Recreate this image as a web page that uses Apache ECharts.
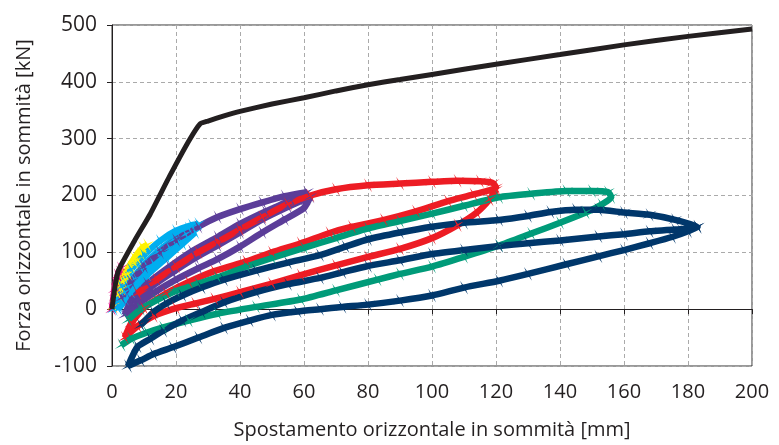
<!DOCTYPE html>
<html>
<head>
<meta charset="utf-8">
<script src="https://cdn.jsdelivr.net/npm/echarts@6/dist/echarts.min.js"></script>
<style>
  html, body { margin: 0; padding: 0; background: #fff; }
  #chart { width: 779px; height: 445px; }
</style>
</head>
<body>
<div id="chart"></div>
<script>
// curva di capacità (pushover)
var backboneCurve = [[0,0],[0.8,35],[2,68],[7,120],[12,168],[18,234],[24,296],[27.5,326],[30,331],[35,340],[40,348],[50,361],[60,372],[70,384],[80,395],[90,404],[100,413],[120,431],[140,448],[160,465],[180,480],[200,493]];

// cicli sperimentali
var magentaLoop = [[0,0],[0.8,35],[1.8,60],[2.8,72],[2.2,55],[1.2,30],[0.4,5],[1.5,40],[2.5,65]];
var yellowLoop = [[0.5,5],[2,38],[4,62],[7,90],[9.5,108],[11,113],[9,98],[6,75],[3.5,48],[2,25],[4,52],[7,82],[10,106],[8,88],[5,62],[3,35]];
var cyanLoop = [[0.5,0],[3,40],[6,70],[10,95],[15,120],[20,138],[25,148],[27,150],[23,132],[18,108],[13,80],[8,50],[4,18],[2,0],[6,30],[11,60],[17,90],[22,115],[26,135],[21,118],[16,98],[11,75],[7,52],[4,30],[2,5],[5,40],[9,72],[14,100],[19,122],[24,142]];
var purpleLoop = [[3,20],[6,48],[10,75],[15,100],[20,122],[27,145],[33,162],[40,176],[47,188],[54,199],[61,206],[56,192],[48,172],[40,150],[33,127],[25,102],[18,75],[11,45],[6,15],[4,-10],[8,8],[14,32],[20,52],[27,72],[33,88],[40,110],[47,135],[54,158],[60,178],[62,198],[55,180],[47,158],[40,135],[33,112],[26,90],[19,65],[12,38],[7,10]];
var redLoop = [[8,28],[14,52],[20,75],[27,100],[33,118],[40,140],[47,162],[55,185],[62,200],[70,211],[80,218],[90,221],[100,224],[108,226],[115,225],[119,222],[120,214],[113,202],[105,190],[95,172],[85,157],[75,145],[68,134],[59,116],[50,100],[42,84],[32,67],[24,48],[17,28],[10,2],[6,-25],[4,-50],[8,-30],[13,-12],[20,2],[26,10],[32,18],[40,30],[50,45],[59,60],[70,77],[80,92],[90,106],[100,125],[108,148],[114,170],[118,193],[120,210]];
var greenLoop = [[5,-19],[9,0],[14,16],[20,32],[27,45],[33,56],[42,75],[50,90],[60,108],[70,125],[80,142],[90,155],[100,168],[110,182],[121,197],[131,203],[142,208],[150,208],[155,206],[156,197],[153,184],[148,170],[140,152],[131,133],[121,112],[110,92],[100,75],[90,62],[83,52],[70,33],[59,17],[45,4],[33,-8],[24,-20],[16,-32],[11,-41],[6,-52],[3,-63]];
var navyLoop = [[9,-28],[13,-5],[17,10],[22,24],[28,38],[35,52],[45,68],[55,82],[65,95],[73,110],[80,123],[90,135],[100,145],[110,152],[121,157],[130,164],[137,171],[145,175],[152,175],[160,170],[168,166],[176,157],[183,145],[176,140],[168,137],[160,132],[152,128],[140,121],[130,116],[121,111],[110,104],[100,97],[90,86],[80,76],[72,65],[65,55],[55,44],[45,30],[35,12],[28,-5],[22,-20],[16,-38],[12,-52],[8,-66],[5,-100],[9,-90],[13,-79],[19,-67],[27,-50],[35,-33],[43,-20],[50,-10],[58,-4],[65,0],[72,4],[80,8],[90,15],[100,24],[110,38],[121,50],[130,62],[142,79],[152,93],[160,104],[168,116],[175,127],[180,137],[183,145]];

var xTicks = [0, 200, 20];
var yTicks = [-100, 500, 100];

var star = 'path://M0,-10 L1,-1 L10,0 L1,1 L0,10 L-1,1 L-10,0 L-1,-1 Z';
var fontName = 'Open Sans';
var textColor = '#231f20';

function loop(data, color) {
    return {
        type: 'line',
        data: data,
        xAxisIndex: 0,
        smooth: 0.2,
        symbol: star,
        symbolSize: 16,
        symbolRotate: 30,
        showSymbol: true,
        itemStyle: { color: color },
        lineStyle: { color: color, width: 6.5 }
    };
}

var option = {
    animation: false,
    grid: {
        left: 112, right: 27, top: 25, bottom: 73,
        show: true, borderColor: '#333', borderWidth: 1
    },
    xAxis: [{
        type: 'value',
        min: xTicks[0], max: xTicks[1], interval: xTicks[2],
        position: 'bottom',
        name: 'Spostamento orizzontale in sommità [mm]',
        nameLocation: 'middle',
        nameGap: 54,
        nameTextStyle: { fontFamily: fontName, fontSize: 20, color: textColor },
        axisLine: { onZero: false, show: false },
        axisTick: { show: false },
        axisLabel: { fontFamily: fontName, fontSize: 20, color: textColor, margin: 16 },
        splitLine: { show: true, lineStyle: { color: '#aaa', type: [4, 3], width: 1 } }
    }, {
        type: 'value',
        min: xTicks[0], max: xTicks[1], interval: xTicks[2],
        position: 'bottom',
        axisLine: { onZero: true, show: true, lineStyle: { color: textColor, width: 1 } },
        axisTick: { show: true, length: 5, lineStyle: { color: textColor } },
        axisLabel: { show: false },
        splitLine: { show: false }
    }],
    yAxis: {
        type: 'value',
        min: yTicks[0], max: yTicks[1], interval: yTicks[2],
        name: 'Forza orizzontale in sommità [kN]',
        nameLocation: 'middle',
        nameGap: 78,
        nameTextStyle: { fontFamily: fontName, fontSize: 20, color: textColor },
        axisLine: { onZero: false, show: true, lineStyle: { color: textColor, width: 1 } },
        axisTick: { show: true, length: 5, lineStyle: { color: textColor } },
        axisLabel: { fontFamily: fontName, fontSize: 21, color: textColor, margin: 15 },
        splitLine: { show: true, lineStyle: { color: '#aaa', type: [4, 3], width: 1 } }
    },
    series: [
        loop(magentaLoop, '#e5007e'),
        loop(yellowLoop, '#fff200'),
        loop(cyanLoop, '#00aeef'),
        loop(purpleLoop, '#5b3d99'),
        loop(redLoop, '#ed1c24'),
        loop(greenLoop, '#009b79'),
        loop(navyLoop, '#00376b'),
        {
            type: 'line',
            data: backboneCurve,
            xAxisIndex: 0,
            showSymbol: false,
            smooth: 0.15,
            lineStyle: { color: '#231f20', width: 5 },
            z: 10
        }
    ]
};

var chart = echarts.init(document.getElementById('chart'));
chart.setOption(option);
</script>
</body>
</html>
